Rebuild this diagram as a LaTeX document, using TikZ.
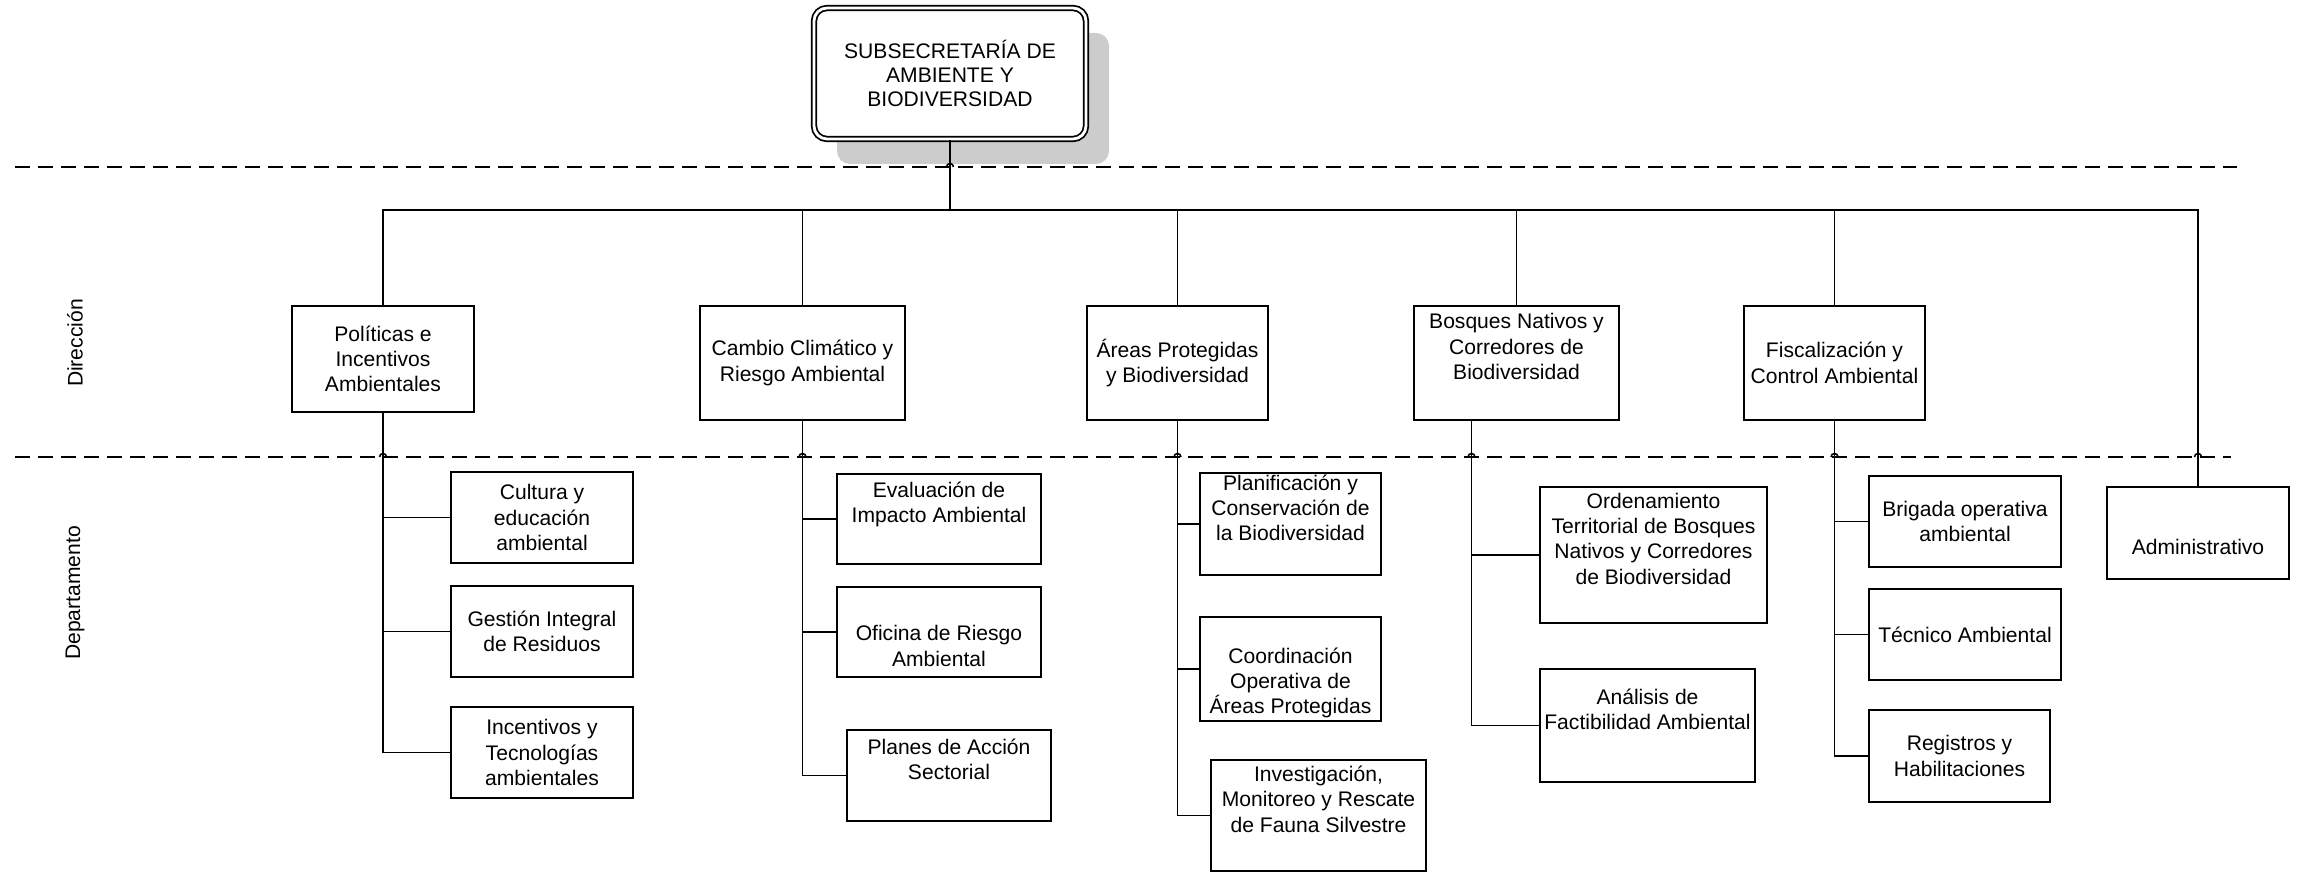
\documentclass[tikz,border=0pt]{standalone}
\usepackage{fontspec}
\setmainfont{Liberation Sans}
\usetikzlibrary{shadows}
\definecolor{shadowgray}{RGB}{204,204,204}

\begin{document}
\begin{tikzpicture}[box/.style={draw, line width=0.5pt, inner sep=0pt, align=center, font=\fontsize{6}{7.2}\selectfont}, link/.style={line width=0.45pt}, division/.style={line width=0.6pt, dash pattern=on 0.15cm off 0.08cm}, side/.style={rotate=90, font=\fontsize{6}{7.2}\selectfont}]
                \useasboundingbox (0,0) rectangle (23.05,-8.73);

                \node[box, fill=white, double, double distance=0.8pt, rounded corners=0.13cm, minimum width=2.72cm, minimum height=1.31cm, font=\fontsize{6}{6.8}\selectfont, drop shadow={shadow xshift=0.23cm, shadow yshift=-0.25cm, fill=shadowgray, opacity=1}] (subsec) at (9.50,-0.735) {SUBSECRETARÍA DE\\AMBIENTE Y\\BIODIVERSIDAD};

                \node[side] (dir) at (0.75,-3.43) {Dirección};
                \node[side] (dep) at (0.75,-5.93) {Departamento};

                \node[box, minimum width=1.82cm, minimum height=1.06cm] (pol) at (3.83,-3.59) {Políticas e\\Incentivos\\Ambientales};
                \node[box, minimum width=2.05cm, minimum height=1.14cm] (cam) at (8.025,-3.63) {Cambio Climático y\\Riesgo Ambiental};
                \node[box, minimum width=1.81cm, minimum height=1.14cm] (are) at (11.775,-3.63) {Áreas Protegidas\\y Biodiversidad};
                \node[box, minimum width=2.05cm, minimum height=1.14cm] (bos) at (15.165,-3.63) {Bosques Nativos y\\Corredores de\\Biodiversidad\\\strut};
                \node[box, minimum width=1.81cm, minimum height=1.14cm] (fis) at (18.345,-3.63) {Fiscalización y\\Control Ambiental};
                \node[box, minimum width=1.82cm, minimum height=0.92cm] (adm) at (21.98,-5.33) {\strut\\Administrativo};

                \node[box, minimum width=1.82cm, minimum height=0.91cm] (cul) at (5.42,-5.175) {Cultura y\\educación\\ambiental};
                \node[box, minimum width=1.82cm, minimum height=0.91cm] (ges) at (5.42,-6.315) {Gestión Integral\\de Residuos};
                \node[box, minimum width=1.82cm, minimum height=0.91cm] (inc) at (5.42,-7.525) {Incentivos y\\Tecnologías\\ambientales};

                \node[box, minimum width=2.04cm, minimum height=0.90cm] (eva) at (9.39,-5.19) {Evaluación de\\Impacto Ambiental\\\strut};
                \node[box, minimum width=2.04cm, minimum height=0.90cm] (ofi) at (9.39,-6.32) {\strut\\Oficina de Riesgo\\Ambiental};
                \node[box, minimum width=2.04cm, minimum height=0.91cm] (pla) at (9.49,-7.755) {Planes de Acción\\Sectorial\\\strut};

                \node[box, minimum width=1.81cm, minimum height=1.02cm] (pln) at (12.905,-5.24) {Planificación y\\Conservación de\\la Biodiversidad\\\strut};
                \node[box, minimum width=1.81cm, minimum height=1.04cm] (coo) at (12.905,-6.69) {\strut\\Coordinación\\Operativa de\\Áreas Protegidas};
                \node[box, minimum width=2.15cm, minimum height=1.11cm] (inv) at (13.185,-8.155) {Investigación,\\Monitoreo y Rescate\\de Fauna Silvestre\\\strut};

                \node[box, minimum width=2.27cm, minimum height=1.36cm] (ord) at (16.535,-5.55) {Ordenamiento\\Territorial de Bosques\\Nativos y Corredores\\de Biodiversidad\\\strut};
                \node[box, minimum width=2.15cm, minimum height=1.13cm] (ana) at (16.475,-7.255) {Análisis de\\Factibilidad Ambiental\\\strut};

                \node[box, minimum width=1.92cm, minimum height=0.91cm] (bri) at (19.65,-5.215) {Brigada operativa\\ambiental};
                \node[box, minimum width=1.92cm, minimum height=0.91cm] (tec) at (19.65,-6.345) {Técnico Ambiental};
                \node[box, minimum width=1.81cm, minimum height=0.92cm] (reg) at (19.595,-7.56) {Registros y\\Habilitaciones};

                \draw[division] (0.15,-1.67) -- (22.37,-1.67);
                \draw[division] (0.15,-4.57) -- (22.31,-4.57);

                \coordinate (bus) at (9.50,-2.10);
                \draw[link, line width=0.8pt] (subsec) -- (bus);
                \foreach \n in {pol,cam,are,bos,fis,adm} \draw[link] (bus) -| (\n.north);
                \foreach \n in {cul,ges,inc} \draw[link] (pol.south) |- (\n.west);
                \foreach \n in {eva,ofi,pla} \draw[link] (cam.south) |- (\n.west);
                \foreach \n in {pln,coo,inv} \draw[link] (are.south) |- (\n.west);
                \foreach \n in {ord,ana} \draw[link] ([xshift=-0.45cm]bos.south) |- (\n.west);
                \foreach \n in {bri,tec,reg} \draw[link] (fis.south) |- (\n.west);

                \foreach \x in {3.83,8.025,11.775,14.715,18.345,21.98} \draw[link] (\x-0.035,-4.57) arc[start angle=180, end angle=0, radius=0.035];
                \draw[link] (9.465,-1.67) arc[start angle=180, end angle=0, radius=0.035];
\end{tikzpicture}
\end{document}
